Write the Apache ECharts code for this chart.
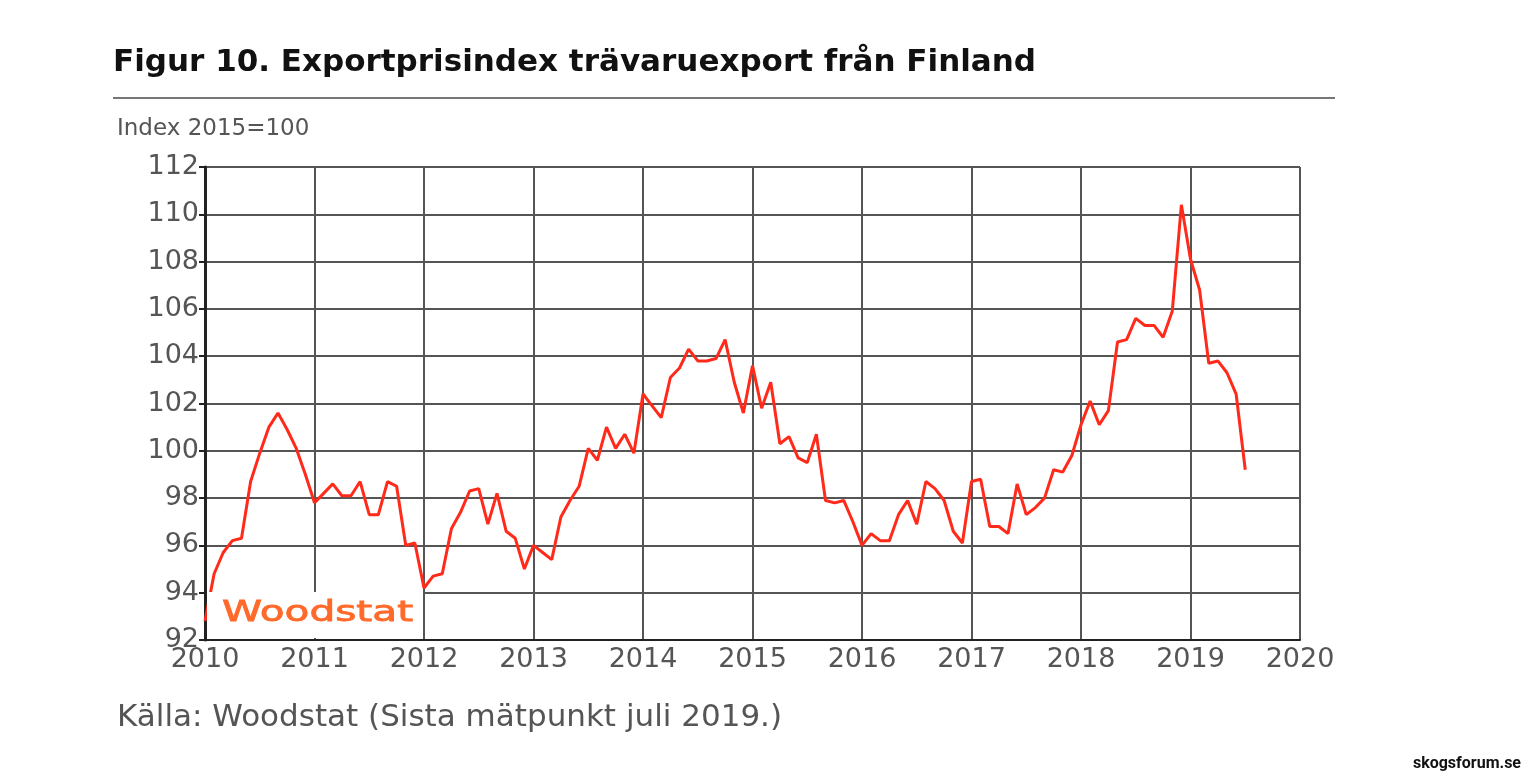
<!DOCTYPE html>
<html>
<head>
<meta charset="utf-8">
<script src="https://cdn.jsdelivr.net/npm/echarts@6/dist/echarts.min.js"></script>
<style>
  body { margin: 0; background: #fff; }
  #chart { width: 1529px; height: 778px; }
</style>
</head>
<body>
<div id="chart"></div>
<script>
// monthly index, Jan 2010 .. Jul 2019
const startYear = 2010;
const values2010 = [92.8, 94.8, 95.7, 96.2, 96.3, 98.7, 99.9, 101.0, 101.6, 100.9, 100.1, 99.0];
const values2011 = [97.8, 98.2, 98.6, 98.1, 98.1, 98.7, 97.3, 97.3, 98.7, 98.5, 96.0, 96.1];
const values2012 = [94.2, 94.7, 94.8, 96.7, 97.4, 98.3, 98.4, 96.9, 98.2, 96.6, 96.3, 95.0];
const values2013 = [96.0, 95.7, 95.4, 97.2, 97.9, 98.5, 100.1, 99.6, 101.0, 100.1, 100.7, 99.9];
const values2014 = [102.4, 101.9, 101.4, 103.1, 103.5, 104.3, 103.8, 103.8, 103.9, 104.7, 102.9, 101.6];
const values2015 = [103.6, 101.8, 102.9, 100.3, 100.6, 99.7, 99.5, 100.7, 97.9, 97.8, 97.9, 97.0];
const values2016 = [96.0, 96.5, 96.2, 96.2, 97.3, 97.9, 96.9, 98.7, 98.4, 97.9, 96.6, 96.1];
const values2017 = [98.7, 98.8, 96.8, 96.8, 96.5, 98.6, 97.3, 97.6, 98.0, 99.2, 99.1, 99.8];
const values2018 = [101.1, 102.1, 101.1, 101.7, 104.6, 104.7, 105.6, 105.3, 105.3, 104.8, 105.9, 110.4];
const values2019 = [108.1, 106.8, 103.7, 103.8, 103.3, 102.4, 99.2];

const allValues = [].concat(values2010, values2011, values2012, values2013, values2014,
  values2015, values2016, values2017, values2018, values2019);
const seriesData = allValues.map((v, i) => [startYear + i / 12, v]);

const chart = echarts.init(document.getElementById('chart'));
const labelFont = { fontFamily: 'DejaVu Sans', color: '#555', fontSize: 27 };

chart.setOption({
  animation: false,
  grid: { left: 205, right: 229, top: 167, bottom: 138 },
  graphic: [
    { type: 'text', left: 113, top: 47,
      style: { text: 'Figur 10. Exportprisindex trävaruexport från Finland', font: 'bold 31px "DejaVu Sans"', fill: '#111' } },
    { type: 'line', shape: { x1: 113, y1: 98, x2: 1335, y2: 98 }, style: { stroke: '#777', lineWidth: 2 } },
    { type: 'text', left: 117, top: 118,
      style: { text: 'Index 2015=100', font: '23px "DejaVu Sans"', fill: '#555' } },
    { type: 'rect', shape: { x: 207, y: 592, width: 216, height: 46 }, style: { fill: '#fff' }, z: 5 },
    { type: 'text', x: 222, y: 600, scaleX: 1.45, z: 6,
      style: { text: 'Woodstat', font: '28px "DejaVu Sans"', fill: '#ff6a2a', stroke: '#ff6a2a', lineWidth: 0.8 } },
    { type: 'text', left: 117, top: 702,
      style: { text: 'Källa: Woodstat (Sista mätpunkt juli 2019.)', font: '31px "DejaVu Sans"', fill: '#555' } },
    { type: 'text', right: 8, top: 756,
      style: { text: 'skogsforum.se', font: 'bold 16px Roboto', fill: '#111' } }
  ],
  xAxis: {
    type: 'value', min: 2010, max: 2020, interval: 1,
    axisLine: { lineStyle: { color: '#222', width: 2 } },
    axisTick: { show: false },
    axisLabel: Object.assign({ margin: 6, formatter: v => String(v) }, labelFont),
    splitLine: { lineStyle: { color: '#555', width: 2 } }
  },
  yAxis: {
    type: 'value', min: 92, max: 112, interval: 2,
    axisLine: { show: true, lineStyle: { color: '#222', width: 3 } },
    axisTick: { show: true, length: 6, inside: false, lineStyle: { color: '#222', width: 2 } },
    axisLabel: Object.assign({ margin: 6 }, labelFont),
    splitLine: { lineStyle: { color: '#555', width: 2 } }
  },
  series: [{
    type: 'line', data: seriesData, showSymbol: false, z: 4,
    lineStyle: { color: '#ff2a1a', width: 3 }
  }]
});
</script>
</body>
</html>
